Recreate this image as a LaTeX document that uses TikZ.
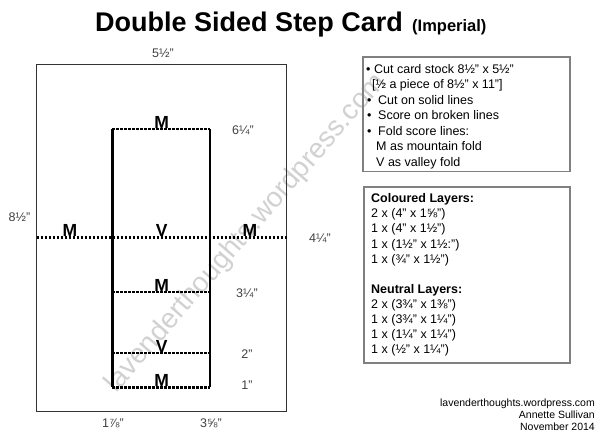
\documentclass[tikz,border=0pt]{standalone}
\usepackage{fontspec}
\setmainfont{Liberation Sans}
\begin{document}
\begin{tikzpicture}[x=1pt,y=-1pt,
  dim/.style={font=\fontsize{12.5}{14}\selectfont, text=black!75, inner sep=0pt, anchor=base},
  foldlbl/.style={font=\bfseries\fontsize{17.5}{18}\selectfont, inner sep=0pt, anchor=base},
  scoreline/.style={line width=2.4pt, dash pattern=on 2.4pt off 1.6pt},
  cutline/.style={line width=2.4pt},
  infotext/.style={font=\fontsize{12.5}{14}\selectfont, inner sep=0pt, anchor=base west},
  infobold/.style={font=\bfseries\fontsize{12.5}{14}\selectfont, inner sep=0pt, anchor=base west},
  infoframe/.style={draw=black!50, line width=1.3pt},
  footer/.style={font=\fontsize{10.5}{12}\selectfont, inner sep=0pt, anchor=base east},
]
\useasboundingbox (0,0) rectangle (600,441);

% watermark
\node[rotate=49, anchor=base west, text=black!18, font=\fontsize{28}{30}\selectfont, inner sep=0pt] (wm) at (116,394) {lavenderthoughts.wordpress.com};

% title
\node[anchor=base, font=\bfseries\fontsize{27}{30}\selectfont, inner sep=0pt] (title) at (249,32) {Double Sided Step Card};
\node[anchor=base west, font=\bfseries\fontsize{16.5}{18}\selectfont, inner sep=0pt] (imp) at (412,32) {(Imperial)};

% card outline
\coordinate (cTL) at (36.7,64.7);
\coordinate (cBR) at (286.7,411.7);
\draw[black!80, line width=0.8pt] (cTL) rectangle (cBR);

% inner step
\coordinate (aT) at (112.3,129.3); \coordinate (bT) at (210,129.3);
\coordinate (aB) at (112.3,387.3); \coordinate (bB) at (210,387.3);
\coordinate (mL) at (36.7,237.3);  \coordinate (mR) at (286.7,237.3);
\coordinate (a3) at (112.3,291.7); \coordinate (b3) at (210,291.7);
\coordinate (a2) at (112.3,352.7); \coordinate (b2) at (210,352.7);

\draw[cutline] (aT) -- (aB);
\draw[cutline] (bT) -- (bB);
\draw[scoreline] (aT) -- (bT);
\draw[scoreline] (mL) -- (mR);
\draw[scoreline] (a3) -- (b3);
\draw[scoreline] (a2) -- (b2);
\draw[scoreline] (aB) -- (bB);

% fold labels
\node[foldlbl] (f1) at (161.7,128.5) {M};
\node[foldlbl] (f2) at (70,236.5) {M};
\node[foldlbl] (f3) at (161.7,236.5) {V};
\node[foldlbl] (f4) at (250,236.5) {M};
\node[foldlbl] (f5) at (161.7,291) {M};
\node[foldlbl] (f6) at (161.7,352) {V};
\node[foldlbl] (f7) at (161.7,386.5) {M};

% dimensions
\node[dim] (d1) at (163,58) {5½"};
\node[dim] (d2) at (19.5,222) {8½"};
\node[dim] (d3) at (243,135) {6¼"};
\node[dim] (d4) at (320,242) {4¼"};
\node[dim] (d5) at (247,297) {3¼"};
\node[dim] (d6) at (247,358) {2"};
\node[dim] (d7) at (247,389) {1"};
\node[dim] (d8) at (113,427) {1⅞"};
\node[dim] (d9) at (211,427) {3⅝"};

% instruction box
\draw[infoframe] (363,57) rectangle (570,171.5);
\node[infotext] (i1b) at (366,73.5) {•};
\node[infotext] (i1) at (374,73.5) {Cut card stock 8½" x 5½"};
\node[infotext] (i2) at (372,89) {[½ a piece of 8½" x 11”]};
\node[infotext] (i3b) at (367,104.5) {•};
\node[infotext] (i3) at (378,104.5) {Cut on solid lines};
\node[infotext] (i4b) at (367,120) {•};
\node[infotext] (i4) at (378,120) {Score on broken lines};
\node[infotext] (i5b) at (367,135.5) {•};
\node[infotext] (i5) at (378,135.5) {Fold score lines:};
\node[infotext] (i6) at (376,151) {M as mountain fold};
\node[infotext] (i7) at (376,166.5) {V as valley fold};

% layers box
\draw[infoframe] (364,187) rectangle (570,363);
\node[infobold] (l0) at (371,203) {Coloured Layers:};
\node[infotext] (l1) at (371,218) {2 x (4" x 1⅝”)};
\node[infotext] (l2) at (371,233) {1 x (4" x 1½”)};
\node[infotext] (l3) at (371,248) {1 x (1½" x 1½:”)};
\node[infotext] (l4) at (371,263) {1 x (¾" x 1½”)};
\node[infobold] (l6) at (371,293) {Neutral Layers:};
\node[infotext] (l7) at (371,308) {2 x (3¾" x 1⅜”)};
\node[infotext] (l8) at (371,323) {1 x (3¾" x 1¼”)};
\node[infotext] (l9) at (371,338) {1 x (1¼" x 1¼”)};
\node[infotext] (l10) at (371,353) {1 x (½" x 1¼”)};

% footer
\node[footer] (ft1) at (595,406) {lavenderthoughts.wordpress.com};
\node[footer] (ft2) at (595,418) {Annette Sullivan};
\node[footer] (ft3) at (595,430) {November 2014};
\end{tikzpicture}
\end{document}
